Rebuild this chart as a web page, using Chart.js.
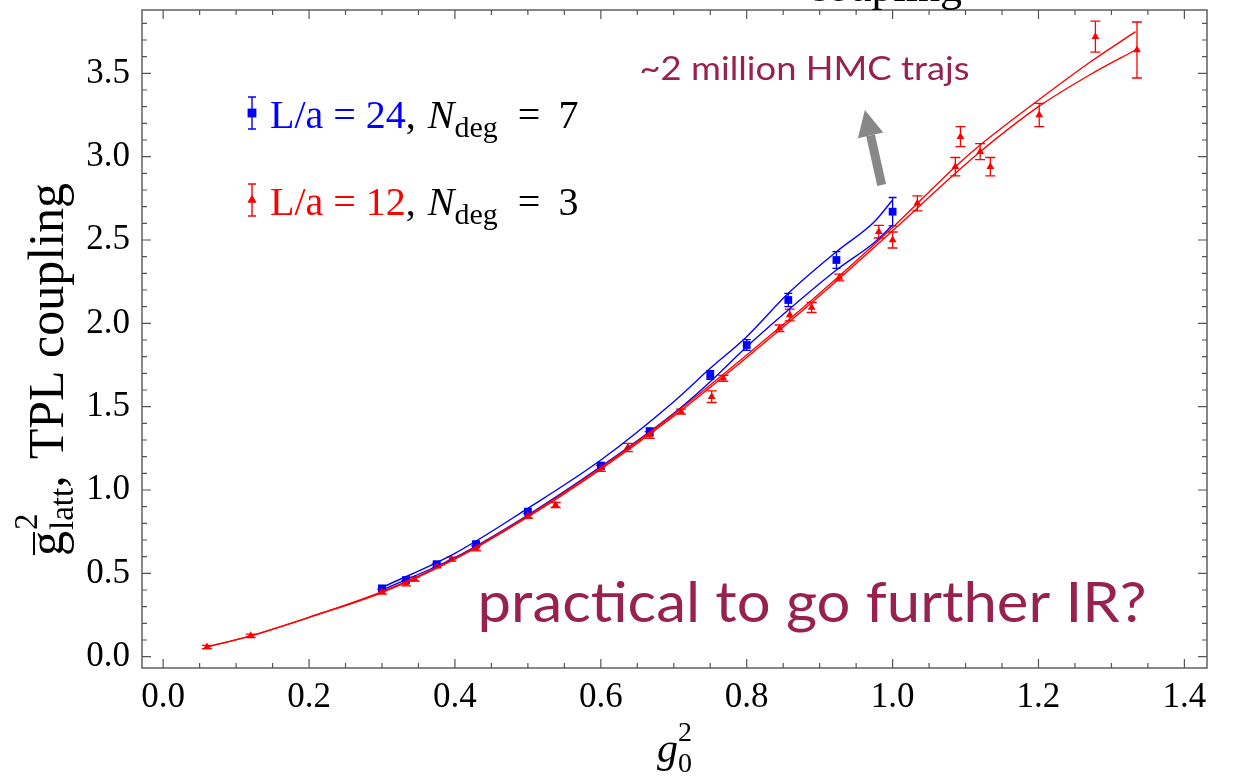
<!DOCTYPE html>
<html>
<head>
<meta charset="utf-8">
<script src="https://cdn.jsdelivr.net/npm/chart.js@4.4.1/dist/chart.umd.min.js"></script>
<style>
  html, body { margin: 0; padding: 0; background: #fff; }
</style>
</head>
<body>
<canvas id="coupling" width="1235" height="780"></canvas>
<script>
// L/a = 24 lattice, N_deg = 7
const xL24 = [0.300, 0.333, 0.375, 0.429, 0.500, 0.600, 0.667, 0.750, 0.800, 0.857, 0.923, 1.000];
const yL24 = [0.41, 0.46, 0.555, 0.675, 0.87, 1.145, 1.35, 1.69, 1.87, 2.14, 2.38, 2.67];
const eL24 = [0.012, 0.012, 0.014, 0.016, 0.018, 0.02, 0.022, 0.026, 0.032, 0.04, 0.05, 0.085];

// L/a = 12 lattice, N_deg = 3
const xL12 = [0.060, 0.120, 0.300, 0.333, 0.345, 0.375, 0.395, 0.429, 0.500, 0.538, 0.600, 0.637, 0.667, 0.710, 0.752,
              0.768, 0.845, 0.859, 0.889, 0.927, 0.981, 1.000, 1.034, 1.086, 1.093, 1.120, 1.134, 1.201, 1.278, 1.335];
const yL12 = [0.058, 0.125, 0.39, 0.44, 0.465, 0.545, 0.585, 0.65, 0.845, 0.91, 1.13, 1.255, 1.33, 1.47, 1.56,
              1.67, 1.97, 2.05, 2.095, 2.275, 2.55, 2.50, 2.72, 2.94, 3.12, 3.03, 2.94, 3.25, 3.72, 3.64];
const eL12 = [0.01, 0.01, 0.015, 0.015, 0.012, 0.012, 0.012, 0.015, 0.015, 0.015, 0.018, 0.025, 0.02, 0.015, 0.035,
              0.018, 0.02, 0.035, 0.03, 0.02, 0.038, 0.048, 0.045, 0.055, 0.06, 0.048, 0.055, 0.07, 0.093, 0.168];

// fit bands (upper / lower edge)
const fitX24 = [0.3, 0.4, 0.5, 0.6, 0.7, 0.75, 0.8, 0.857, 0.923, 0.975, 1.0];
const fit24Hi = [0.415, 0.62, 0.89, 1.18, 1.53, 1.73, 1.92, 2.18, 2.43, 2.61, 2.74];
const fit24Lo = [0.40, 0.595, 0.85, 1.14, 1.46, 1.65, 1.86, 2.08, 2.32, 2.485, 2.59];

const fitX12 = [0.06, 0.12, 0.2, 0.3, 0.4, 0.5, 0.6, 0.7, 0.8, 0.9, 1.0, 1.086, 1.12, 1.2, 1.27, 1.333];
const fit12Hi = [0.058, 0.125, 0.236, 0.39, 0.59, 0.845, 1.135, 1.455, 1.81, 2.18, 2.575, 2.94, 3.07, 3.34, 3.565, 3.75];
const fit12Lo = [0.058, 0.125, 0.236, 0.385, 0.585, 0.838, 1.125, 1.443, 1.795, 2.165, 2.555, 2.90, 3.03, 3.30, 3.49, 3.64];

const xTicks = [0.0, 0.2, 0.4, 0.6, 0.8, 1.0, 1.2, 1.4];
const yTicks = [0.0, 0.5, 1.0, 1.5, 2.0, 2.5, 3.0, 3.5];

const BLUE = '#0000ff';
const RED = '#ff0000';
const MAROON = '#98224f';
const SERIF = '"Liberation Serif", "DejaVu Serif", serif';
const SANS = 'Lato, "Open Sans", sans-serif';

const pts = (xs, ys) => xs.map((x, i) => ({ x: x, y: ys[i] }));

function fitLine(xs, ys, color) {
  return {
    type: 'line', data: pts(xs, ys), borderColor: color, borderWidth: 1.4,
    pointRadius: 0, fill: false, cubicInterpolationMode: 'monotone'
  };
}

// draws a list of text pieces one after another
function drawRuns(ctx, x, y, runs) {
  runs.forEach(r => {
    ctx.fillStyle = r.color || '#000';
    if (r.gap) { x += r.gap; return; }
    if (r.stack) {
      // superscript and subscript at the same x
      let w = 0;
      r.stack.forEach(s => {
        ctx.font = s.font;
        ctx.fillText(s.text, x, y + s.dy);
        w = Math.max(w, ctx.measureText(s.text).width);
      });
      x += w;
    } else {
      ctx.font = r.font;
      ctx.fillText(r.text, x, y + (r.dy || 0));
      x += ctx.measureText(r.text).width;
    }
  });
  return x;
}

// text squeezed or stretched to a given width
function fitText(ctx, text, x, y, width) {
  const w = ctx.measureText(text).width;
  ctx.save();
  ctx.translate(x, y);
  ctx.scale(width / w, 1);
  ctx.fillText(text, 0, 0);
  ctx.restore();
}

// error bars under the markers
const errorBars = {
  id: 'errorBars',
  beforeDatasetsDraw(chart) {
    const ctx = chart.ctx;
    const ys = chart.scales.y, xs = chart.scales.x;
    const sets = [[xL24, yL24, eL24, BLUE, 4], [xL12, yL12, eL12, RED, 5]];
    ctx.save();
    ctx.lineWidth = 1.3;
    sets.forEach(([X, Y, E, c, cap]) => {
      ctx.strokeStyle = c;
      X.forEach((xv, i) => {
        const px = xs.getPixelForValue(xv);
        const top = ys.getPixelForValue(Y[i] + E[i]);
        const bot = ys.getPixelForValue(Y[i] - E[i]);
        ctx.beginPath();
        ctx.moveTo(px, top); ctx.lineTo(px, bot);
        ctx.moveTo(px - cap, top); ctx.lineTo(px + cap, top);
        ctx.moveTo(px - cap, bot); ctx.lineTo(px + cap, bot);
        ctx.stroke();
      });
    });
    ctx.restore();
  }
};

// boxed frame with inward ticks on all four sides
const frame = {
  id: 'frame',
  afterDraw(chart) {
    const ctx = chart.ctx;
    const a = chart.chartArea;
    const xs = chart.scales.x, ys = chart.scales.y;
    ctx.save();
    ctx.strokeStyle = '#555';
    ctx.lineWidth = 1.4;
    ctx.strokeRect(a.left, a.top, a.right - a.left, a.bottom - a.top);
    ctx.lineWidth = 1.2;
    ctx.beginPath();
    for (let k = 0; k <= 28; k++) {
      const px = xs.getPixelForValue(k * 0.05);
      const len = k % 4 === 0 ? 9 : 5;
      ctx.moveTo(px, a.bottom); ctx.lineTo(px, a.bottom - len);
      ctx.moveTo(px, a.top); ctx.lineTo(px, a.top + len);
    }
    for (let k = 0; k <= 38; k++) {
      const py = ys.getPixelForValue(k * 0.1);
      const len = k % 5 === 0 ? 9 : 5;
      ctx.moveTo(a.left, py); ctx.lineTo(a.left + len, py);
      ctx.moveTo(a.right, py); ctx.lineTo(a.right - len, py);
    }
    ctx.stroke();
    ctx.restore();
  }
};

// legend, axis titles and notes
const labels = {
  id: 'labels',
  afterDraw(chart) {
    const ctx = chart.ctx;
    const xs = chart.scales.x, ys = chart.scales.y;
    const a = chart.chartArea;
    ctx.save();
    ctx.textBaseline = 'alphabetic';

    // title, mostly above the page edge
    ctx.font = '44px ' + SERIF;
    ctx.fillStyle = '#000';
    ctx.textAlign = 'right';
    ctx.fillText('coupling', 962, 1);
    ctx.textAlign = 'left';

    // legend entries
    const entries = [
      { color: BLUE, shape: 'rect', text: 'L/a = 24', n: '7', y: a.top + 103 },
      { color: RED, shape: 'triangle', text: 'L/a = 12', n: '3', y: a.top + 190 }
    ];
    entries.forEach(en => {
      const mx = a.left + 110;
      ctx.strokeStyle = en.color;
      ctx.fillStyle = en.color;
      ctx.lineWidth = 1.4;
      ctx.beginPath();
      ctx.moveTo(mx, en.y - 16); ctx.lineTo(mx, en.y + 16);
      ctx.moveTo(mx - 4, en.y - 16); ctx.lineTo(mx + 4, en.y - 16);
      ctx.moveTo(mx - 4, en.y + 16); ctx.lineTo(mx + 4, en.y + 16);
      ctx.stroke();
      Chart.helpers.drawPoint(ctx, { pointStyle: en.shape, radius: en.shape === 'rect' ? 6 : 5, borderWidth: 0 }, mx, en.y);
      ctx.fill();
      drawRuns(ctx, a.left + 128, en.y + 15, [
        { text: en.text, font: '40px ' + SERIF, color: en.color },
        { text: ',', font: '40px ' + SERIF },
        { gap: 12 },
        { text: 'N', font: 'italic 40px ' + SERIF },
        { text: 'deg', font: '30px ' + SERIF, dy: 9 },
        { gap: 20 },
        { text: '=', font: '40px ' + SERIF },
        { gap: 18 },
        { text: en.n, font: '40px ' + SERIF }
      ]);
    });

    // y axis title, rotated
    ctx.save();
    ctx.translate(63, 556);
    ctx.rotate(-Math.PI / 2);
    const gEnd = drawRuns(ctx, 0, 0, [{ text: 'g', font: '50px ' + SERIF }]);
    ctx.strokeStyle = '#000';
    ctx.lineWidth = 2;
    ctx.beginPath();
    ctx.moveTo(1, -29); ctx.lineTo(gEnd - 1, -29);
    ctx.stroke();
    drawRuns(ctx, gEnd + 1, 0, [
      { stack: [{ text: '2', font: '33px ' + SERIF, dy: -26 }, { text: 'latt', font: '33px ' + SERIF, dy: 10 }] },
      { text: ',', font: '50px ' + SERIF },
      { gap: 16 },
      { text: 'TPL coupling', font: '50px ' + SERIF }
    ]);
    ctx.restore();

    // x axis title
    drawRuns(ctx, 657, 762, [
      { text: 'g', font: 'italic 42px ' + SERIF },
      { stack: [{ text: '2', font: '28px ' + SERIF, dy: -21 }, { text: '0', font: '28px ' + SERIF, dy: 10 }] }
    ]);

    // notes
    ctx.fillStyle = MAROON;
    ctx.font = '33px ' + SANS;
    fitText(ctx, '~2 million HMC trajs', xs.getPixelForValue(0.653), ys.getPixelForValue(3.46), 330);
    ctx.font = '56px ' + SANS;
    fitText(ctx, 'practical to go further IR?', xs.getPixelForValue(0.431), ys.getPixelForValue(0.21), 669);

    // arrow
    const x0 = xs.getPixelForValue(0.985), y0 = ys.getPixelForValue(2.83);
    const x1 = xs.getPixelForValue(0.962), y1 = ys.getPixelForValue(3.28);
    const ang = Math.atan2(y1 - y0, x1 - x0);
    const head = 26;
    const bx = x1 - head * Math.cos(ang), by = y1 - head * Math.sin(ang);
    ctx.strokeStyle = '#888';
    ctx.fillStyle = '#888';
    ctx.lineWidth = 9;
    ctx.beginPath();
    ctx.moveTo(x0, y0); ctx.lineTo(bx, by);
    ctx.stroke();
    const nx = -Math.sin(ang), ny = Math.cos(ang);
    ctx.beginPath();
    ctx.moveTo(x1, y1);
    ctx.lineTo(bx + nx * 13, by + ny * 13);
    ctx.lineTo(bx - nx * 13, by - ny * 13);
    ctx.closePath();
    ctx.fill();

    ctx.restore();
  }
};

new Chart(document.getElementById('coupling'), {
  type: 'scatter',
  data: {
    datasets: [
      fitLine(fitX12, fit12Hi, RED),
      fitLine(fitX12, fit12Lo, RED),
      fitLine(fitX24, fit24Hi, BLUE),
      fitLine(fitX24, fit24Lo, BLUE),
      {
        data: pts(xL12, yL12), pointStyle: 'triangle', pointRadius: 4.5,
        backgroundColor: RED, borderColor: RED, borderWidth: 0, showLine: false
      },
      {
        data: pts(xL24, yL24), pointStyle: 'rect', pointRadius: 5.5,
        backgroundColor: BLUE, borderColor: BLUE, borderWidth: 0, showLine: false
      }
    ]
  },
  options: {
    responsive: false,
    animation: false,
    layout: { padding: { top: 10, right: 28, left: 0, bottom: 0 } },
    plugins: { legend: { display: false }, tooltip: { enabled: false } },
    scales: {
      x: {
        type: 'linear', min: -0.029, max: 1.431,
        grid: { display: false, drawTicks: false }, border: { display: false },
        ticks: {
          autoSkip: false, maxRotation: 0, padding: 9, color: '#000',
          font: { family: SERIF, size: 35 }, callback: v => v.toFixed(1)
        },
        afterBuildTicks: s => { s.ticks = xTicks.map(v => ({ value: v })); },
        afterFit: s => { s.height = 112; s.paddingLeft = 0; s.paddingRight = 0; }
      },
      y: {
        type: 'linear', min: -0.068, max: 3.88,
        grid: { display: false, drawTicks: false }, border: { display: false },
        ticks: {
          autoSkip: false, padding: 12, color: '#000',
          font: { family: SERIF, size: 35 }, callback: v => v.toFixed(1)
        },
        afterBuildTicks: s => { s.ticks = yTicks.map(v => ({ value: v })); },
        afterFit: s => { s.width = 142; s.paddingTop = 0; s.paddingBottom = 0; }
      }
    }
  },
  plugins: [errorBars, frame, labels]
});
</script>
</body>
</html>
